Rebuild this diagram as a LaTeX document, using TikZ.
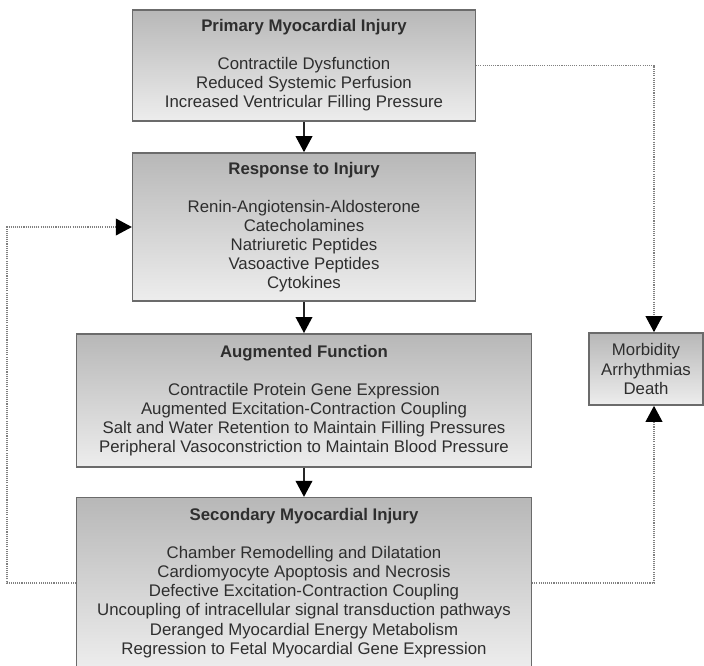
\documentclass[tikz,border=0pt]{standalone}
\usepackage{fontspec}
\setmainfont{Liberation Sans}
\usetikzlibrary{arrows.meta, calc}

\begin{document}
\begin{tikzpicture}[
    x=0.75pt, y=-0.75pt,
    box/.style={draw=black!58, line width=1.2pt, top color=black!28, bottom color=black!7,
                align=center, text=black!82, inner sep=0pt,
                font=\fontsize{12.6}{14.3}\selectfont},
    flow/.style={-{Triangle[width=12.5pt, length=12pt, color=black]}, line width=1.1pt, draw=black!85},
    fb/.style={-{Triangle[width=12.5pt, length=12pt, color=black]}, dash pattern=on 0.8pt off 0.8pt,
               line width=1.2pt, draw=black!50},
]
\useasboundingbox (0,0) rectangle (704,665);

\node[box, minimum width=257pt, minimum height=83pt] (prim) at (304,65.5)
   {\textbf{Primary Myocardial Injury}\\[14.3pt]
    Contractile Dysfunction\\ Reduced Systemic Perfusion\\ Increased Ventricular Filling Pressure};
\node[box, minimum width=257pt, minimum height=111pt] (resp) at (304,227)
   {\textbf{Response to Injury}\\[14.3pt]
    Renin-Angiotensin-Aldosterone\\ Catecholamines\\ Natriuretic Peptides\\
    Vasoactive Peptides\\ Cytokines};
\node[box, minimum width=341pt, minimum height=100pt] (aug) at (304,400.5)
   {\textbf{Augmented Function}\\[14.3pt]
    Contractile Protein Gene Expression\\ Augmented Excitation-Contraction Coupling\\
    Salt and Water Retention to Maintain Filling Pressures\\
    Peripheral Vasoconstriction to Maintain Blood Pressure};
\node[box, minimum width=341pt, minimum height=128pt] (sec) at (304,583)
   {\textbf{Secondary Myocardial Injury}\\[14.3pt]
    Chamber Remodelling and Dilatation\\ Cardiomyocyte Apoptosis and Necrosis\\
    Defective Excitation-Contraction Coupling\\
    Uncoupling of intracellular signal transduction pathways\\
    Deranged Myocardial Energy Metabolism\\
    Regression to Fetal Myocardial Gene Expression};
\node[box, minimum width=85.5pt, minimum height=54pt] (out) at (646,369)
   {Morbidity\\ Arrhythmias\\ Death};

\draw[flow] (prim) -- (resp);
\draw[flow] (resp) -- (aug);
\draw[flow] (aug) -- (sec);

% feedback loop and outcome links
\draw[fb] (sec.west) -- ++(-69,0) |- (resp.west);
\draw[fb] (prim.east) -| ($(out.north)+(8,0)$);
\draw[fb] (sec.east) -| ($(out.south)+(8,0)$);
\end{tikzpicture}
\end{document}
